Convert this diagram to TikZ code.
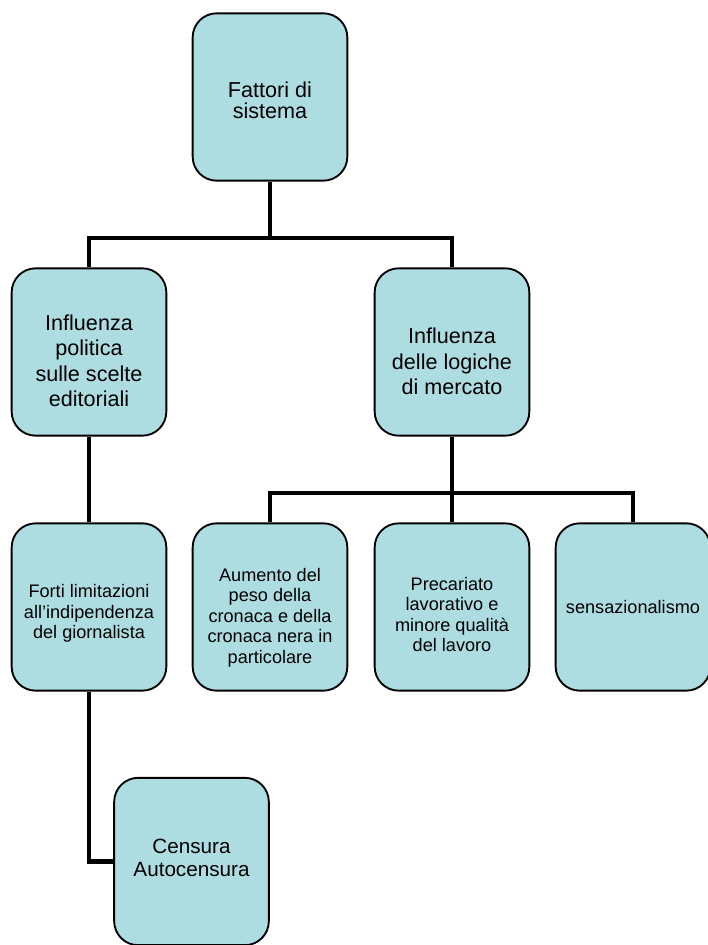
\documentclass[tikz,border=0pt]{standalone}
\usepackage{fontspec}
\setmainfont{Liberation Sans}
\usepackage{tikz}
\usepackage{xcolor}
\definecolor{boxfill}{RGB}{174,221,225}

\begin{document}
\begin{tikzpicture}[x=0.75pt,y=-0.75pt]
\tikzstyle{box}=[rectangle,rounded corners=18pt,draw,line width=1.4pt,fill=boxfill,minimum width=116pt,minimum height=125.5pt,inner sep=0pt]
\tikzstyle{txt}=[align=center,inner sep=0pt]
\tikzstyle{big}=[txt,font=\fontsize{16.2}{19}\selectfont]
\tikzstyle{small}=[txt,font=\fontsize{13.6}{15.4}\selectfont]
\tikzstyle{link}=[line width=3.4pt]
\useasboundingbox (0,0) rectangle (707,945);
% boxes
\node(fattori)at(270,97)[box]{};
\node(polit)at(89,352)[box]{};
\node(logic)at(452,352)[box]{};
\node(forti)at(89,607)[box]{};
\node(aumento)at(270,607)[box]{};
\node(precar)at(452,607)[box]{};
\node(sensaz)at(633,607)[box]{};
\node(censura)at(191.5,861.5)[box]{};
% junctions
\coordinate(j1)at(270,238);
\coordinate(j2)at(452,493);
% connectors
\draw[link](fattori)--(j1);
\draw[link](polit)|-(j1)-|(logic);
\draw[link](logic)--(precar);
\draw[link](aumento)|-(j2)-|(sensaz);
\draw[link](polit)--(forti);
\draw[link](forti)|-(censura);
% texts
\node(fattori-t)at([yshift=-2.5pt]fattori.center)[txt,font=\fontsize{16.2}{16}\selectfont]{Fattori di\\sistema};
\node(polit-t)at([yshift=-6.5pt]polit.center)[big]{Influenza\\politica\\sulle scelte\\editoriali};
\node(logic-t)at([yshift=-7pt]logic.center)[big]{Influenza\\delle logiche\\di mercato};
\node(forti-t)at([yshift=-5pt]forti.center)[small]{Forti limitazioni\\all'indipendenza\\del giornalista};
\node(aumento-t)at([yshift=-8pt]aumento.center)[small]{Aumento del\\peso della\\cronaca e della\\cronaca nera in\\particolare};
\node(precar-t)at([yshift=-5.5pt]precar.center)[small]{Precariato\\lavorativo e\\minore qualità\\del lavoro};
\node(sensaz-t)at(sensaz)[small]{sensazionalismo};
\node(censura-t)at([yshift=3pt]censura.center)[txt,font=\fontsize{15.5}{17.25}\selectfont]{Censura\\Autocensura};
\end{tikzpicture}
\end{document}
